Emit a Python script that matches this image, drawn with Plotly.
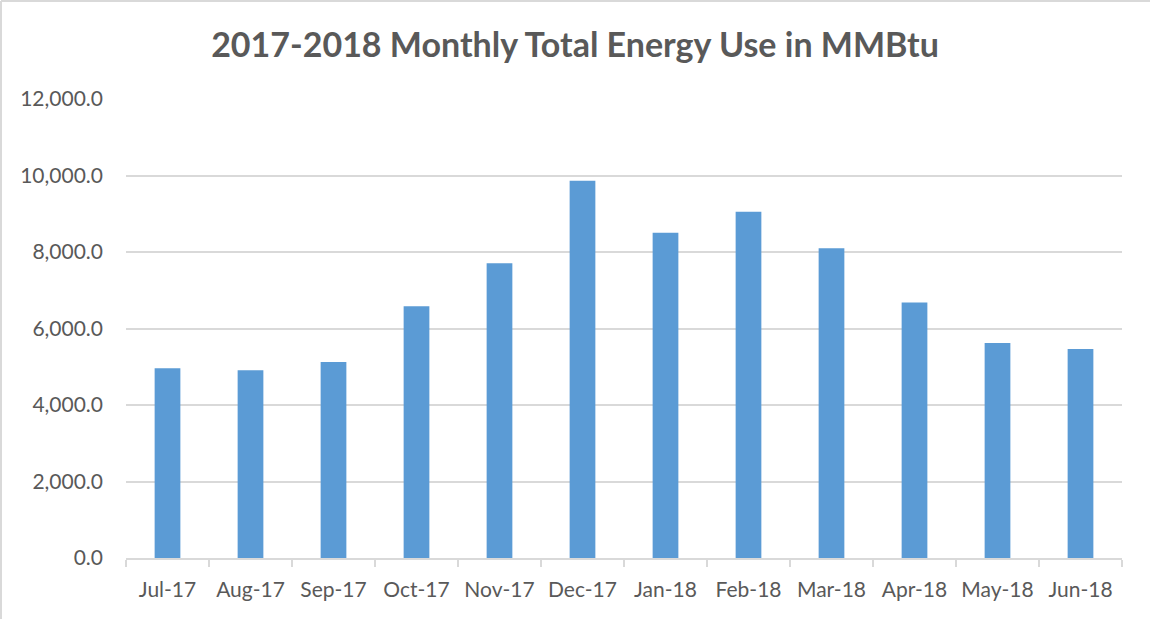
import plotly.graph_objects as go

months = ["Jul-17", "Aug-17", "Sep-17", "Oct-17", "Nov-17", "Dec-17",
          "Jan-18", "Feb-18", "Mar-18", "Apr-18", "May-18", "Jun-18"]
energy_mmbtu = [4960, 4910, 5125, 6580, 7705, 9865,
                8505, 9050, 8095, 6680, 5620, 5465]
y_ticks = [0, 2000, 4000, 6000, 8000, 10000, 12000]

W, H = 1150, 619
ML, MR, MT, MB = 126, 28, 99, 61
pw, ph = W - ML - MR, H - MT - MB

fig = go.Figure(go.Bar(
    x=months, y=energy_mmbtu,
    marker=dict(color="#5B9BD5", line=dict(width=0)),
    hoverinfo="x+y",
))

fig.update_layout(
    width=W, height=H,
    margin=dict(l=ML, r=MR, t=MT, b=MB, pad=0),
    paper_bgcolor="white", plot_bgcolor="white",
    bargap=0.69,
    showlegend=False,
    font=dict(family="Lato, 'Open Sans', sans-serif", color="#595959"),
    title=dict(text="<b>2017-2018 Monthly Total Energy Use in MMBtu</b>",
               x=0.5, xanchor="center", y=1 - 45 / H, yanchor="middle",
               font=dict(size=34, color="#595959")),
    xaxis=dict(
        type="category",
        showline=True, linecolor="#D9D9D9", linewidth=1.5,
        ticks="outside", tickson="boundaries", ticklen=7, tickcolor="#D9D9D9",
        tickwidth=1.5,
        ticklabelstandoff=12,
        tickfont=dict(size=21, color="#595959"),
        showgrid=False, fixedrange=True,
    ),
    yaxis=dict(
        range=[0, 12000], tickvals=y_ticks, tickformat=",.1f",
        showgrid=True, gridcolor="#D9D9D9", gridwidth=1.5,
        zeroline=False, showline=False, ticks="",
        ticklabelstandoff=22,
        tickfont=dict(size=21, color="#595959"),
        fixedrange=True,
    ),
    shapes=[
        dict(type="line", xref="paper", yref="paper",
             x0=(1 - ML) / pw, x1=(W - ML) / pw, y0=(H - MB - 1) / ph, y1=(H - MB - 1) / ph,
             line=dict(color="#D9D9D9", width=2)),
        dict(type="line", xref="paper", yref="paper",
             x0=(1 - ML) / pw, x1=(1 - ML) / pw, y0=(H - MB - 1) / ph, y1=-MB / ph,
             line=dict(color="#D9D9D9", width=2)),
    ],
)

fig.write_html("out.html",
               config={"displayModeBar": False},
               post_script="document.body.style.margin='0';document.body.style.overflow='hidden';")
